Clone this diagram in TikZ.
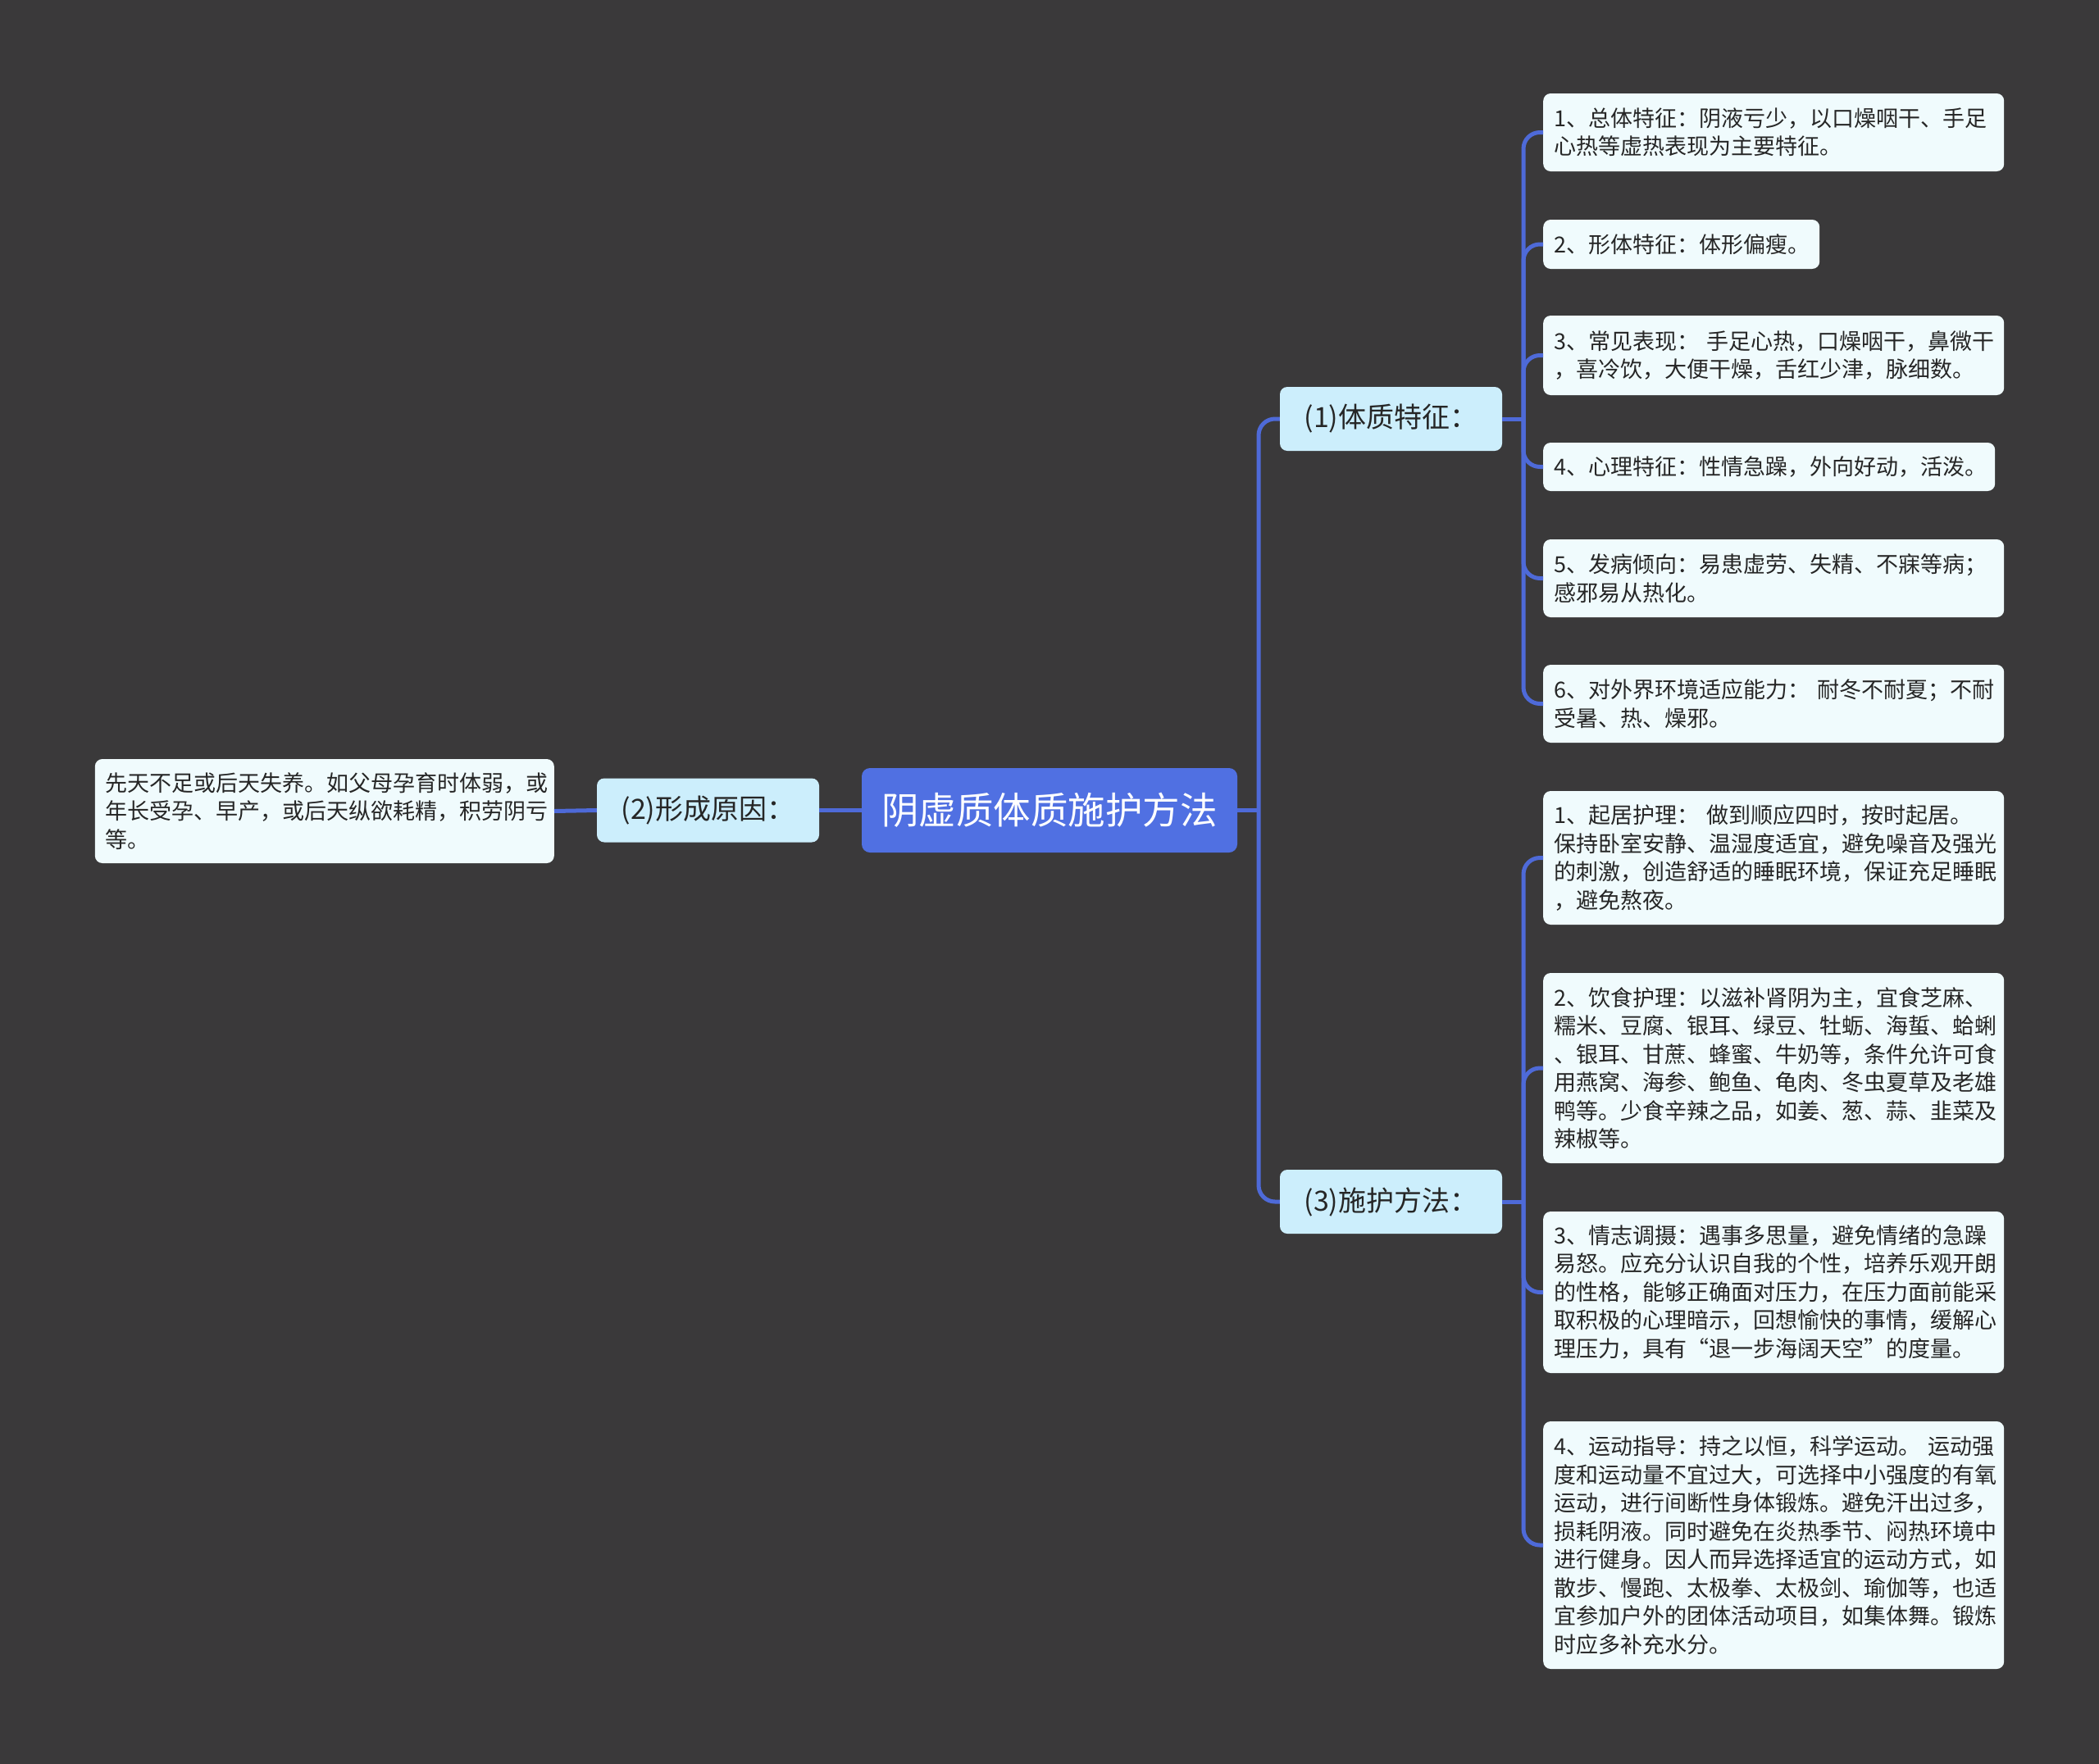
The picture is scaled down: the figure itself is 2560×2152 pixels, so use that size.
\documentclass[tikz,border=0pt]{standalone}
\usepackage{fontspec}
\setmainfont{Noto Sans CJK SC}
\definecolor{bgc}{RGB}{58,57,58}
\definecolor{connc}{RGB}{78,106,216}
\definecolor{rootfill}{RGB}{80,112,226}
\definecolor{branchfill}{RGB}{204,238,252}
\definecolor{leaffill}{RGB}{240,251,253}
\definecolor{txt}{RGB}{38,38,38}
\begin{document}
\begin{tikzpicture}[x=1pt,y=-1pt,
  conn/.style={draw=connc, line width=5pt},
  leafbox/.style={fill=leaffill, rounded corners=9pt, anchor=west, align=left, inner xsep=13pt, inner ysep=0pt, text=txt, font=\fontsize{27}{34.5}\selectfont},
  branchbox/.style={fill=branchfill, rounded corners=9pt, minimum width=271pt, minimum height=78pt, inner sep=0pt, text=txt, font=\fontsize{34}{40}\selectfont},
  rootbox/.style={fill=rootfill, rounded corners=10pt, minimum width=458pt, minimum height=103pt, inner sep=0pt, text=white, font=\fontsize{45.5}{54}\selectfont}
]
\fill[bgc] (0,0) rectangle (2560,2152);
\useasboundingbox (0,0) rectangle (2560,2152);

% root and branches
\node[rootbox] (root) at (1280,988.5) {阴虚质体质施护方法};
\node[branchbox] (b1) at (1696.5,511) {(1)体质特征：};
\node[branchbox] (b2) at (863.5,988.5) {(2)形成原因：};
\node[branchbox] (b3) at (1696.5,1466) {(3)施护方法：};

% left leaf
\node[leafbox, anchor=east, text width=534pt, minimum height=127pt] (p1) at (676,989.5) {先天不足或后天失养。如父母孕育时体弱，或\\年长受孕、早产，或后天纵欲耗精，积劳阴亏\\等。};

% right leaves, branch 1
\node[leafbox, text width=536pt, minimum height=95pt] (l1) at (1882,161.5) {1、总体特征：阴液亏少，以口燥咽干、手足\\心热等虚热表现为主要特征。};
\node[leafbox, text width=311pt, minimum height=60pt] (l2) at (1882,298) {2、形体特征：体形偏瘦。};
\node[leafbox, text width=536pt, minimum height=97pt] (l3) at (1882,433.5) {3、常见表现：~手足心热，口燥咽干，鼻微干\\，喜冷饮，大便干燥，舌红少津，脉细数。};
\node[leafbox, text width=525pt, minimum height=59pt] (l4) at (1882,569.5) {4、心理特征：性情急躁，外向好动，活泼。};
\node[leafbox, text width=536pt, minimum height=95pt] (l5) at (1882,705.5) {5、发病倾向：易患虚劳、失精、不寐等病；\\感邪易从热化。};
\node[leafbox, text width=536pt, minimum height=95pt] (l6) at (1882,858.5) {6、对外界环境适应能力：~耐冬不耐夏；不耐\\受暑、热、燥邪。};

% right leaves, branch 3
\node[leafbox, text width=536pt, minimum height=163pt] (m1) at (1882,1046.5) {1、起居护理：~做到顺应四时，按时起居。\\保持卧室安静、温湿度适宜，避免噪音及强光\\的刺激，创造舒适的睡眠环境，保证充足睡眠\\，避免熬夜。};
\node[leafbox, text width=536pt, minimum height=232pt] (m2) at (1882,1303) {2、饮食护理：以滋补肾阴为主，宜食芝麻、\\糯米、豆腐、银耳、绿豆、牡蛎、海蜇、蛤蜊\\、银耳、甘蔗、蜂蜜、牛奶等，条件允许可食\\用燕窝、海参、鲍鱼、龟肉、冬虫夏草及老雄\\鸭等。少食辛辣之品，如姜、葱、蒜、韭菜及\\辣椒等。};
\node[leafbox, text width=536pt, minimum height=197pt] (m3) at (1882,1576.5) {3、情志调摄：遇事多思量，避免情绪的急躁\\易怒。应充分认识自我的个性，培养乐观开朗\\的性格，能够正确面对压力，在压力面前能采\\取积极的心理暗示，回想愉快的事情，缓解心\\理压力，具有“退一步海阔天空”的度量。};
\node[leafbox, text width=536pt, minimum height=302pt] (m4) at (1882,1885) {4、运动指导：持之以恒，科学运动。~运动强\\度和运动量不宜过大，可选择中小强度的有氧\\运动，进行间断性身体锻炼。避免汗出过多，\\损耗阴液。同时避免在炎热季节、闷热环境中\\进行健身。因人而异选择适宜的运动方式，如\\散步、慢跑、太极拳、太极剑、瑜伽等，也适\\宜参加户外的团体活动项目，如集体舞。锻炼\\时应多补充水分。};

% junction coordinates
\coordinate (s0) at (1535,988.5);
\coordinate (s1) at (1858,511);
\coordinate (s3) at (1858,1466);

% connectors
\draw[conn] (root.east) -- (s0);
\draw[conn, rounded corners=20pt] (b1.west) -| (s0) |- (b3.west);
\draw[conn] (root.west) -- (b2.east);
\draw[conn] (b2.west) -- (p1.east);

\draw[conn] (b1.east) -- (s1);
\foreach \n in {l1,l2,l3,l4,l5,l6}
  \draw[conn, rounded corners=20pt] (s1) |- (\n.west);

\draw[conn] (b3.east) -- (s3);
\foreach \n in {m1,m2,m3,m4}
  \draw[conn, rounded corners=20pt] (s3) |- (\n.west);
\end{tikzpicture}
\end{document}
